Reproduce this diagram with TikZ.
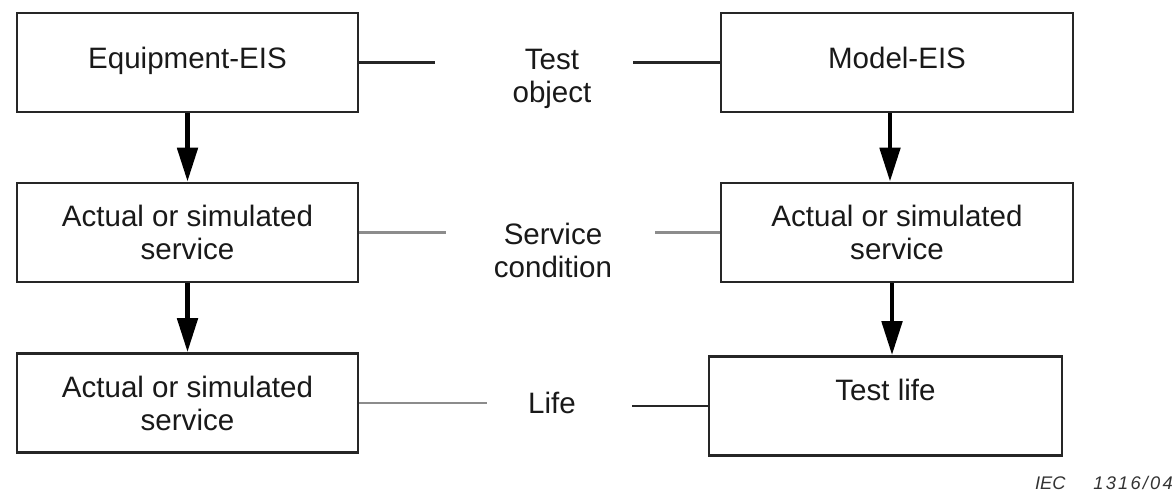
\documentclass[tikz,border=0pt]{standalone}
\usepackage{fontspec}
\setmainfont{Liberation Sans}
\usetikzlibrary{arrows.meta}

\tikzset{
  box/.style={draw=black!85, line width=1.8pt, align=center, inner sep=0pt,
    minimum width=8.525cm, minimum height=2.475cm, text=black!90,
    font=\fontsize{21pt}{23.4pt}\selectfont},
  onebox/.style={box, text height=0.55cm, text depth=0.25cm},
  cond/.style={align=center, inner sep=0pt, text=black!90,
    font=\fontsize{21pt}{23.4pt}\selectfont},
  flow/.style={line width=3.5pt, -{Triangle[length=0.85cm,width=0.5cm]}},
  link/.style={line width=2pt, black!85},
  greylink/.style={line width=2pt, black!45}
}

\begin{document}
\begin{tikzpicture}[x=0.025cm,y=-0.025cm]
        \useasboundingbox (0,0) rectangle (1173,491);
        % left column
        \node[onebox] (eis) at (187.5,62.5) {Equipment-EIS};
        \node[box] (lsvc) at (187.5,232.5) {Actual or simulated\\service};
        \node[box] (llife) at (187.5,403) {Actual or simulated\\service};
        % right column
        \node[onebox, minimum width=8.8cm] (model) at (897,62.5) {Model-EIS};
        \node[box, minimum width=8.8cm] (rsvc) at (897,232.5) {Actual or simulated\\service};
        \node[onebox, minimum width=8.825cm, text depth=0.8cm] (tlife) at (885.5,406) {Test life};
        % middle labels
        \node[cond] (obj) at (552,79) {Test\\object};
        \node[cond] (cnd) at (553,250) {Service\\condition};
        \node[cond] (life) at (552,403) {Life};
        % free ends of the links
        \coordinate (objl) at (435,62.5);
        \coordinate (objr) at (633,62.5);
        \coordinate (cndl) at (446,232.5);
        \coordinate (cndr) at (655,232.5);
        \coordinate (lifel) at (487,403);
        \coordinate (lifer) at (632,406);
        \draw[link] (eis.east) -- (objl);
        \draw[link] (objr) -- (model.west);
        \draw[greylink] (lsvc.east) -- (cndl);
        \draw[greylink] (cndr) -- (rsvc.west);
        \draw[greylink] (llife.east) -- (lifel);
        \draw[link] (lifer) -- (tlife.west);
        % arrows
        \draw[flow] (eis.south) -- (lsvc.north);
        \draw[flow] (lsvc.south) -- (llife.north);
        \draw[flow] ([xshift=-0.175cm]model.south) -- ([xshift=-0.175cm]rsvc.north);
        \draw[flow] ([xshift=-0.125cm]rsvc.south) -- ([xshift=-0.125cm]rsvc.south |- tlife.north);
        \node[anchor=east, inner sep=0pt, text=black!80,
          font=\fontsize{13pt}{14pt}\selectfont\itshape] (iec) at (1173,483)
          {IEC\hspace{0.7cm}{\addfontfeature{LetterSpace=12}1316/04}};
\end{tikzpicture}
\end{document}
